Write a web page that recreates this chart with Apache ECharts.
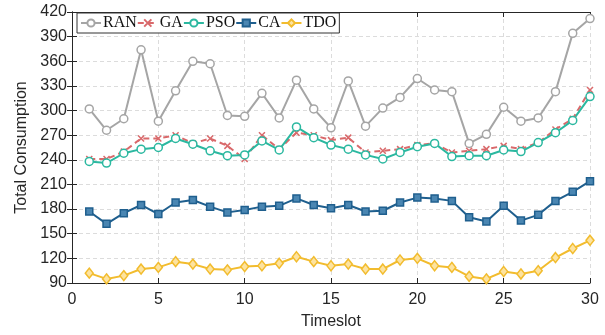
<!DOCTYPE html>
<html><head><meta charset="utf-8">
<script src="https://cdn.jsdelivr.net/npm/echarts@6/dist/echarts.min.js"></script>
<style>html,body{margin:0;padding:0;background:#fff}#c{width:605px;height:335px}</style>
</head><body><div id="c"></div>
<script>
var timeslots = [1,2,3,4,5,6,7,8,9,10,11,12,13,14,15,16,17,18,19,20,21,22,23,24,25,26,27,28,29,30];
var RAN = [302,276,290,374,287,324,360,357,294,293,321,291,337,302,279,336,281,303,316,339,325,323,260,271,304,287,291,323,394,412];
var GA  = [241,241,250,266,266,270,260,266,257,241,270,253,273,270,264,267,249,251,253,258,260,249,251,253,257,253,261,277,290,325];
var PSO = [238,236,248,253,255,266,259,251,245,246,263,252,280,267,258,253,246,241,249,256,260,244,245,245,252,250,261,273,288,317];
var CA  = [177,162,175,185,174,188,191,183,176,179,183,184,193,185,181,185,177,178,188,194,193,190,170,165,184,166,173,190,201,214];
var TDO = [102,95,99,107,109,116,113,107,106,110,111,114,122,116,111,113,107,107,118,120,111,109,98,95,104,101,105,121,132,142];

function pairs(v){ return v.map(function(y,i){ return [timeslots[i], y]; }); }

var chart = echarts.init(document.getElementById('c'));
var axisLineStyle = {color:'#262626', width:1};
var gridLine = {show:true, lineStyle:{color:'#dcdcdc', type:[4,3], width:1}};
chart.setOption({
  animation:false,
  backgroundColor:'#fff',
  grid:{left:72, right:15, top:12, bottom:50},
  legend:{
    left:77, top:13, orient:'horizontal',
    backgroundColor:'#fff', borderColor:'#333', borderWidth:1, borderRadius:0,
    padding:[2,3,2,3], itemGap:0, itemWidth:20, itemHeight:9,
    textStyle:{fontFamily:'Liberation Serif', fontSize:16, color:'#111', padding:[0,0,0,-3]},
    data:['RAN','GA','PSO','CA','TDO']
  },
  xAxis:[{
    type:'value', min:0, max:30, interval:5,
    name:'Timeslot', nameLocation:'middle', nameGap:31,
    nameTextStyle:{fontFamily:'Liberation Sans', fontSize:16, color:'#262626'},
    axisLine:{lineStyle:axisLineStyle}, axisTick:{inside:true, length:5, lineStyle:axisLineStyle},
    axisLabel:{fontFamily:'Liberation Sans', fontSize:16, color:'#262626', margin:9},
    splitLine:gridLine
  },{
    type:'value', min:0, max:30, interval:5, position:'top',
    axisLine:{lineStyle:axisLineStyle}, axisTick:{inside:true, length:5, lineStyle:axisLineStyle},
    axisLabel:{show:false}, splitLine:{show:false}
  }],
  yAxis:[{
    type:'value', min:90, max:420, interval:30,
    name:'Total Consumption', nameLocation:'middle', nameGap:38,
    nameTextStyle:{fontFamily:'Liberation Sans', fontSize:16, color:'#262626'},
    axisLine:{show:true, lineStyle:axisLineStyle}, axisTick:{show:true, inside:true, length:5, lineStyle:axisLineStyle},
    axisLabel:{fontFamily:'Liberation Sans', fontSize:16, color:'#262626', margin:5},
    splitLine:gridLine
  },{
    type:'value', min:90, max:420, interval:30, position:'right',
    axisLine:{show:true, lineStyle:axisLineStyle}, axisTick:{show:true, inside:true, length:5, lineStyle:axisLineStyle},
    axisLabel:{show:false}, splitLine:{show:false}
  }],
  series:[
    {name:'RAN', type:'line', data:pairs(RAN), symbol:'circle', symbolSize:8,
     lineStyle:{color:'#a5a5a5', width:2}, itemStyle:{color:'#fff', borderColor:'#a5a5a5', borderWidth:1.5}},
    {name:'GA', type:'line', data:pairs(GA), symbol:'path://M0,0L10,10M10,0L0,10', symbolSize:6,
     lineStyle:{color:'#d9696b', width:2, type:[6,4]}, itemStyle:{color:'#d9696b', borderColor:'#d9696b', borderWidth:1.5}},
    {name:'PSO', type:'line', data:pairs(PSO), symbol:'circle', symbolSize:8,
     lineStyle:{color:'#2bb8a0', width:2}, itemStyle:{color:'#fff', borderColor:'#2bb8a0', borderWidth:1.5}},
    {name:'CA', type:'line', data:pairs(CA), symbol:'rect', symbolSize:7,
     lineStyle:{color:'#1f5f8e', width:2}, itemStyle:{color:'#4a86b2', borderColor:'#1f5f8e', borderWidth:1.5}},
    {name:'TDO', type:'line', data:pairs(TDO), symbol:'diamond', symbolSize:[8,10],
     lineStyle:{color:'#f2bc2e', width:2}, itemStyle:{color:'#fde3a0', borderColor:'#f2bc2e', borderWidth:1.5}}
  ]
});
</script></body></html>
